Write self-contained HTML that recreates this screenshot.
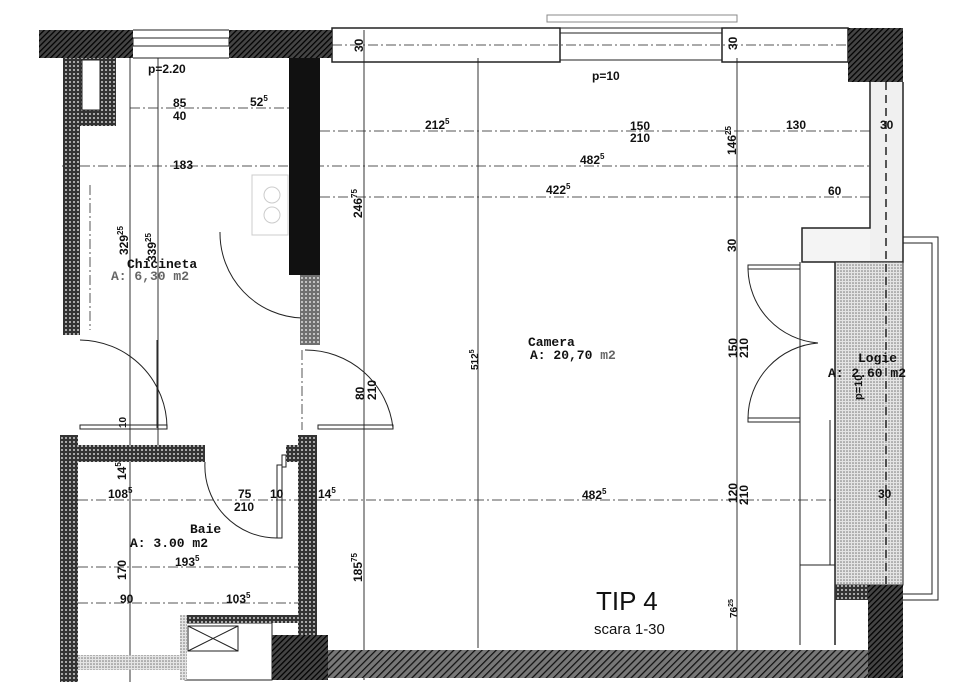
<!DOCTYPE html>
<html><head><meta charset="utf-8"><style>
html,body{margin:0;padding:0;background:#fff}
svg{display:block}
text{font-family:"Liberation Sans",sans-serif;font-size:12px;fill:#111;font-weight:bold}
.m{font-family:"Liberation Mono",monospace;font-weight:bold;font-size:13px}
.g{fill:#666}
</style></head><body>
<svg width="967" height="698" viewBox="0 0 967 698" xmlns="http://www.w3.org/2000/svg">
<defs>
<pattern id="h" width="4" height="4" patternUnits="userSpaceOnUse" patternTransform="rotate(45)">
<rect width="4" height="4" fill="#444"/><line x1="0" y1="0" x2="0" y2="4" stroke="#000" stroke-width="2.5"/></pattern>
<pattern id="c" width="4" height="4" patternUnits="userSpaceOnUse">
<rect width="4" height="4" fill="#333"/><circle cx="2" cy="2" r="1" fill="#ccc"/></pattern>
<pattern id="s" width="3" height="3" patternUnits="userSpaceOnUse">
<rect width="3" height="3" fill="#e4e4e4"/><circle cx="1" cy="1" r="0.8" fill="#777"/></pattern>
<pattern id="bh" width="5" height="5" patternUnits="userSpaceOnUse" patternTransform="rotate(45)">
<rect width="5" height="5" fill="#777"/><line x1="0" y1="0" x2="0" y2="5" stroke="#111" stroke-width="2.5"/></pattern>
</defs>
<g fill="none" stroke="#222" stroke-width="1">
<g stroke="#555" stroke-dasharray="10 3 2 3">
<line x1="130" y1="108" x2="290" y2="108"/>
<line x1="320" y1="131" x2="870" y2="131"/>
<line x1="62" y1="166" x2="870" y2="166"/>
<line x1="320" y1="197" x2="870" y2="197"/>
<line x1="60" y1="500" x2="905" y2="500"/>
<line x1="78" y1="567" x2="298" y2="567"/>
<line x1="78" y1="603" x2="298" y2="603"/>
<line x1="90" y1="185" x2="90" y2="330"/>
<line x1="302" y1="350" x2="302" y2="430"/>
<line x1="332" y1="45" x2="848" y2="45"/>
</g>
<line x1="130" y1="30" x2="130" y2="682" stroke="#333"/>
<line x1="158" y1="58" x2="158" y2="445" stroke="#333"/>
<line x1="364" y1="30" x2="364" y2="680" stroke="#333"/>
<line x1="478" y1="58" x2="478" y2="648" stroke="#333"/>
<line x1="737" y1="58" x2="737" y2="678" stroke="#333"/>
<rect x="332" y="28" width="228" height="34" stroke-width="1.5"/>
<rect x="722" y="28" width="126" height="34" stroke-width="1.5"/>
<line x1="560" y1="28" x2="722" y2="28"/>
<line x1="560" y1="33" x2="722" y2="33"/>
<line x1="560" y1="60" x2="722" y2="60"/>
<rect x="547" y="15" width="190" height="7" stroke="#888"/>
<rect x="133" y="38" width="96" height="8"/>
<line x1="133" y1="30" x2="229" y2="30"/><line x1="133" y1="58" x2="229" y2="58"/>
<rect x="870" y="82" width="33" height="180" fill="#f0f0f0" stroke="none"/>
<rect x="802" y="228" width="68" height="34" fill="#f4f4f4" stroke="none"/>
<polyline points="848,62 870,62 870,228 802,228 802,262 903,262 903,82" stroke-width="1.5"/>
<rect x="835" y="262" width="68" height="323" fill="url(#s)"/>
<line x1="886" y1="82" x2="886" y2="590" stroke-dasharray="8 5" stroke-width="1.5"/>
<polyline points="903,237 938,237 938,600 903,600" />
<polyline points="903,243 932,243 932,594 903,594" />
<line x1="800" y1="262" x2="800" y2="645"/>
<line x1="835" y1="262" x2="835" y2="645" stroke-width="1.5"/>
<line x1="830" y1="420" x2="830" y2="565"/>
<line x1="800" y1="565" x2="835" y2="565"/>
<rect x="748" y="265" width="52" height="4"/>
<rect x="748" y="418" width="52" height="4"/>
<path d="M748,269 A76,76 0 0 0 818,343"/>
<path d="M748,418 A76,76 0 0 1 818,343"/>
<path d="M220,232 A85,85 0 0 0 302,318"/>
<path d="M80,340 A88,88 0 0 1 167,428"/>
<rect x="80" y="425" width="87" height="4"/>
<line x1="157" y1="340" x2="157" y2="428"/>
<path d="M305,350 A88,88 0 0 1 393,428"/>
<rect x="318" y="425" width="75" height="4"/>
<path d="M205,462 A72,72 0 0 0 277,538"/>
<rect x="277" y="465" width="5" height="73"/>
<rect x="282" y="455" width="4" height="12"/>
<rect x="188" y="626" width="50" height="25"/>
<line x1="188" y1="626" x2="238" y2="651"/><line x1="238" y1="626" x2="188" y2="651"/>
<rect x="185" y="623" width="87" height="57"/>
<rect x="252" y="175" width="36" height="60" stroke="#ccc"/>
<circle cx="272" cy="195" r="8" stroke="#ccc"/><circle cx="272" cy="215" r="8" stroke="#ccc"/>
</g>
<rect x="39" y="30" width="94" height="28" fill="url(#h)"/>
<rect x="229" y="30" width="103" height="28" fill="url(#h)"/>
<rect x="289" y="58" width="31" height="217" fill="#111"/>
<rect x="300" y="275" width="20" height="70" fill="url(#c)" opacity="0.7"/>
<rect x="63" y="58" width="17" height="277" fill="url(#c)"/>
<path d="M80,58 H116 V126 H80 Z M82,60 V110 H100 V60 Z" fill="url(#c)" fill-rule="evenodd"/>
<rect x="82" y="60" width="18" height="50" fill="#fff" stroke="#222"/>
<rect x="848" y="28" width="55" height="54" fill="url(#h)"/>
<rect x="868" y="585" width="35" height="93" fill="url(#h)"/>
<rect x="835" y="585" width="33" height="15" fill="url(#c)"/>
<rect x="60" y="435" width="18" height="247" fill="url(#c)"/>
<rect x="78" y="445" width="127" height="17" fill="url(#c)"/>
<rect x="298" y="435" width="19" height="200" fill="url(#c)"/>
<rect x="286" y="445" width="12" height="17" fill="url(#c)"/>
<rect x="78" y="655" width="102" height="15" fill="url(#s)"/>
<rect x="180" y="615" width="118" height="8" fill="url(#c)"/>
<rect x="180" y="615" width="7" height="65" fill="url(#s)"/>
<rect x="272" y="635" width="56" height="45" fill="url(#h)"/>
<rect x="328" y="650" width="540" height="28" fill="url(#bh)"/>
<text x="148" y="73">p=2.20</text>
<text x="173" y="107">85</text><text x="173" y="120">40</text>
<text x="250" y="106">52<tspan font-size="8" dy="-5">5</tspan></text>
<text x="173" y="169">183</text>
<text x="425" y="129">212<tspan font-size="8" dy="-5">5</tspan></text>
<text x="630" y="130">150</text><text x="630" y="142">210</text>
<text x="786" y="129">130</text>
<text x="880" y="129">30</text>
<text x="580" y="164">482<tspan font-size="8" dy="-5">5</tspan></text>
<text x="546" y="194">422<tspan font-size="8" dy="-5">5</tspan></text>
<text x="828" y="195">60</text>
<text x="592" y="80">p=10</text>
<text x="582" y="499">482<tspan font-size="8" dy="-5">5</tspan></text>
<text x="878" y="498">30</text>
<text x="108" y="498">108<tspan font-size="8" dy="-5">5</tspan></text>
<text x="238" y="498">75</text><text x="234" y="511">210</text>
<text x="270" y="498">10</text>
<text x="318" y="498">14<tspan font-size="8" dy="-5">5</tspan></text>
<text x="175" y="566">193<tspan font-size="8" dy="-5">5</tspan></text>
<text x="120" y="603">90</text>
<text x="226" y="603">103<tspan font-size="8" dy="-5">5</tspan></text>
<text x="596" y="610" style="font-size:26px;font-weight:normal">TIP 4</text>
<text x="594" y="634" style="font-size:15px;font-weight:normal">scara 1-30</text>
<text class="m" x="127" y="268">Chicineta</text>
<text class="m g" x="111" y="280">A: 6,30 m2</text>
<text class="m" x="528" y="346">Camera</text>
<text class="m" x="530" y="359">A: 20,70 <tspan class="g">m2</tspan></text>
<text class="m" x="858" y="362">Logie</text>
<text class="m" x="828" y="377">A: 2.60 m2</text>
<text class="m" x="190" y="533">Baie</text>
<text class="m" x="130" y="547">A: 3.00 m2</text>
<g>
<text transform="translate(128,255) rotate(-90)">329<tspan font-size="8" dy="-5">25</tspan></text>
<text transform="translate(156,262) rotate(-90)">339<tspan font-size="8" dy="-5">25</tspan></text>
<text transform="translate(362,218) rotate(-90)">246<tspan font-size="8" dy="-5">75</tspan></text>
<text transform="translate(478,370) rotate(-90)" style="font-size:10px">512<tspan font-size="7" dy="-4">5</tspan></text>
<text transform="translate(363,52) rotate(-90)">30</text>
<text transform="translate(737,50) rotate(-90)">30</text>
<text transform="translate(736,155) rotate(-90)">146<tspan font-size="8" dy="-5">25</tspan></text>
<text transform="translate(736,252) rotate(-90)">30</text>
<text transform="translate(737,358) rotate(-90)">150</text>
<text transform="translate(748,358) rotate(-90)">210</text>
<text transform="translate(737,503) rotate(-90)">120</text>
<text transform="translate(748,505) rotate(-90)">210</text>
<text transform="translate(737,618) rotate(-90)" style="font-size:10px">76<tspan font-size="7" dy="-4">25</tspan></text>
<text transform="translate(364,400) rotate(-90)">80</text>
<text transform="translate(376,400) rotate(-90)">210</text>
<text transform="translate(126,428) rotate(-90)" style="font-size:10px">10</text>
<text transform="translate(126,480) rotate(-90)">14<tspan font-size="8" dy="-5">5</tspan></text>
<text transform="translate(126,580) rotate(-90)">170</text>
<text transform="translate(362,582) rotate(-90)">185<tspan font-size="8" dy="-5">75</tspan></text>
<text transform="translate(862,400) rotate(-90)" style="font-size:11px">p=10</text>
</g>
</svg>
</body></html>
